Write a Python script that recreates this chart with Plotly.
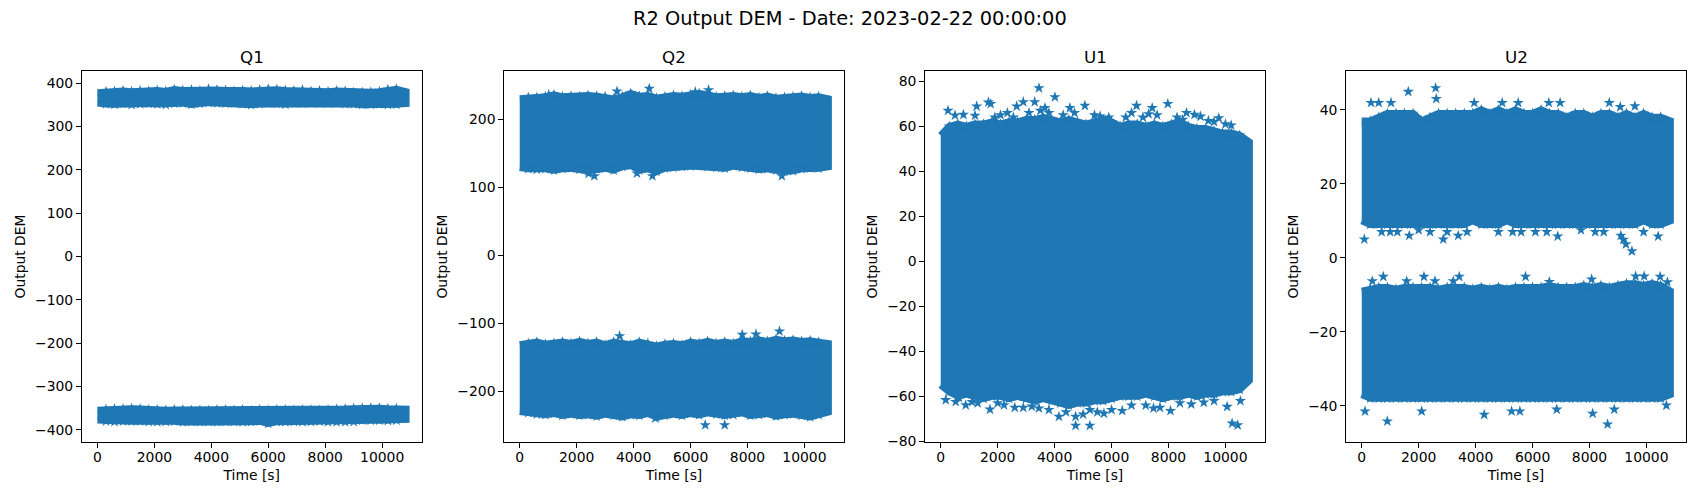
import plotly.graph_objects as go

TITLE = "R2 Output DEM - Date: 2023-02-22 00:00:00"
PANELS = ["Q1", "Q2", "U1", "U2"]
X_LABEL = "Time [s]"
Y_LABEL = "Output DEM"
X_TICKS = [0, 2000, 4000, 6000, 8000, 10000]
Y_TICKS_Q1 = [-400, -300, -200, -100, 0, 100, 200, 300, 400]
Y_TICKS_Q2 = [-200, -100, 0, 100, 200]
Y_TICKS_U1 = [-80, -60, -40, -20, 0, 20, 40, 60, 80]
Y_TICKS_U2 = [-40, -20, 0, 20, 40]

TIME_S = [0, 300, 600, 900, 1200, 1500, 1800, 2100, 2400, 2700, 3000, 3300, 3600,
          3900, 4200, 4500, 4800, 5100, 5400, 5700, 6000, 6300, 6600, 6900, 7200,
          7500, 7800, 8100, 8400, 8700, 9000, 9300, 9600, 9900, 10200, 10500, 10840]

# Q1: upper and lower clusters, edges of the dense sample cloud
Q1_A_HIGH = [378, 380, 381, 382, 380, 382, 381, 383, 381, 385, 383, 384, 382, 386, 384, 383, 381, 383, 382,
             384, 386, 385, 383, 382, 384, 381, 382, 380, 382, 381, 378, 378, 379, 380, 385, 386, 380]
Q1_A_LOW = [354, 352, 351, 353, 350, 352, 353, 352, 350, 353, 354, 351, 353, 355, 354, 353, 354, 352, 350,
            352, 354, 353, 351, 354, 353, 355, 354, 353, 354, 352, 352, 350, 351, 352, 350, 351, 353]
Q1_B_HIGH = [-355, -353, -352, -352, -351, -352, -354, -354, -355, -354, -354, -355, -355, -356, -354, -354,
             -355, -354, -356, -354, -355, -354, -354, -355, -354, -354, -355, -354, -353, -352, -351, -350,
             -350, -350, -351, -351, -352]
Q1_B_LOW = [-377, -380, -381, -380, -380, -380, -381, -382, -381, -380, -382, -381, -382, -381, -382, -381,
            -381, -382, -381, -380, -385, -381, -382, -381, -382, -381, -380, -382, -382, -382, -381, -378,
            -378, -378, -379, -378, -376]

# Q2
Q2_A_HIGH = [230, 232, 232, 233, 236, 233, 234, 233, 235, 234, 233, 230, 233, 238, 234, 235, 231, 233, 235,
             234, 236, 238, 236, 233, 234, 235, 233, 235, 232, 234, 231, 232, 233, 234, 232, 233, 230]
Q2_A_LOW = [129, 127, 126, 127, 125, 127, 128, 126, 124, 127, 128, 125, 130, 132, 125, 127, 123, 128, 129,
            130, 131, 132, 130, 129, 128, 131, 129, 128, 126, 127, 125, 123, 124, 127, 128, 128, 130]
Q2_B_HIGH = [-132, -130, -128, -131, -130, -128, -130, -127, -130, -128, -132, -128, -130, -132, -128, -130,
             -134, -131, -130, -132, -128, -130, -127, -130, -128, -130, -126, -127, -125, -127, -124, -126,
             -125, -127, -126, -128, -130]
Q2_B_LOW = [-230, -232, -234, -235, -233, -236, -234, -236, -235, -237, -234, -236, -238, -235, -236, -233,
            -238, -236, -234, -236, -233, -235, -232, -234, -236, -235, -232, -236, -235, -233, -237, -235,
            -234, -236, -238, -235, -231]
Q2_OUT_T = [3417, 4550, 6166, 6632, 2622, 4660, 4118, 9206, 3509, 9123, 7815, 8295, 6516, 7200, 1018, 2420, 4760]
Q2_OUT_V = [241, 245, 240, 243, 116.5, 116.5, 120.5, 116.5, -119, -112, -117, -116.5, -250, -250, 236, 120, -240]

# U1
U1_HIGH = [56, 60, 61, 60, 61, 61, 62, 61, 62, 62, 63, 63, 64, 63, 62, 63, 62, 61, 62,
           63, 62, 60, 61, 61, 60, 61, 60, 61, 62, 60, 59, 59, 58, 57, 57, 56, 53]
U1_LOW = [-55, -58, -60, -59, -60, -61, -60, -60, -61, -60, -61, -62, -61, -62, -63, -64, -63, -63, -62,
          -62, -61, -60, -60, -60, -59, -60, -61, -60, -60, -59, -60, -59, -59, -58, -58, -57, -53]
U1_OUT_T = [3450, 4011, 3300, 2900, 2667, 1673, 1754, 1263, 1204, 256, 502, 796, 2340, 3660, 5063, 4537,
            6877, 7428, 7976, 8632, 9123, 8912, 9766, 4737, 5239, 4737, 4151, 1730, 2222, 3450, 5239, 5732,
            6375, 7474, 8070, 175, 526, 877, 642, 10059, 10234, 10431, 9239, 10526,
            1900, 2100, 2550, 3100, 3500, 3800, 4300, 4700, 5400, 5600, 5900, 6500, 6700, 7100, 7300, 7600,
            8300, 8500, 9400, 9600, 10000, 10200,
            1100, 1300, 2000, 2600, 2900, 3200, 3800, 4400, 5000, 5500, 6000, 6700, 7200, 7700, 8400, 8800, 9600]
U1_OUT_V = [77, 73, 70.8, 70.8, 68.9, 70.7, 70, 68.9, 64.8, 67, 64.9, 65.2, 66, 68.2, 69.2, 68.2,
            69.2, 68.2, 70, 66, 64.4, 65.2, 63.7, -73, -73, -69, -69, -65.8, -63.9, -65.3, -66, -67.6,
            -66.4, -65.3, -66.4, -61.6, -62.4, -63.9, -60.6, -64.6, -72, -72.8, -62.7, -62,
            64, 65, 64, 66, 67, 66, 65, 66, 65, 64.5, 64, 64, 66, 64, 65.5, 65,
            64, 63, 62.5, 62, 61, 60.5,
            -62.5, -63, -63, -65, -65, -64.5, -66, -67, -68, -67, -66, -64, -64, -65, -63, -63.5, -62]

# U2
U2_A_HIGH = [37, 37, 38, 39, 39, 39, 39, 37, 38, 39, 39, 39, 39, 39, 40, 39, 40, 39, 40,
             39, 39, 40, 39, 39, 38, 39, 39, 38, 39, 39, 38, 39, 38, 39, 38, 38, 37]
U2_A_LOW = [10, 9, 9, 9, 9, 9, 9, 9, 9, 9, 9, 9, 9, 10, 9, 9, 9, 10, 9,
            9, 9, 9, 9, 9, 9, 9, 9, 9, 9, 9, 9, 9, 9, 10, 9, 9, 10]
U2_B_HIGH = [-9, -8.5, -8, -8, -8.5, -8, -8, -8, -8, -8.5, -8, -8, -8, -8.5, -8, -8.5, -8, -8.5, -8,
             -8, -8, -8, -7.5, -8, -8, -8, -7.5, -8, -7.5, -8, -7.5, -7, -7, -7.5, -7, -7.5, -9]
U2_B_LOW = [-37, -38, -38, -38, -38, -38, -38, -38, -38, -38, -38, -38, -38, -38, -38, -38, -38, -38, -38,
            -38, -38, -38, -38, -38, -38, -38, -38, -38, -38, -38, -38, -38, -38, -38, -38, -38, -37]
U2_OUT_T = [1635, 2596, 2618, 326, 596, 1028, 3951, 4933, 5495, 6570, 6968, 8694, 9080, 9594, 91, 1670, 2863,
            3389, 6883, 10410, 9100, 9190, 9280, 9490, 758, 2186, 3425, 5754, 372, 1579, 2572, 3214, 9620,
            9920, 10480, 6590, 8075, 10735, 898, 4302, 116, 2105, 5263, 5554, 6850, 8635, 8110, 8870, 10700,
            700, 1000, 1250, 2000, 2400, 3000, 3700, 4800, 5300, 5600, 6100, 6500, 7700, 8200, 8500, 9900]
U2_OUT_V = [44.9, 45.9, 43, 41.9, 41.9, 41.9, 41.9, 41.9, 41.9, 41.9, 41.9, 41.9, 40.8, 41, 5, 6, 5,
            6, 5.8, 5.8, 6, 4.9, 3.7, 1.8, -5.1, -5.1, -5.1, -5.1, -6.3, -6.3, -6.3, -6.3, -5,
            -5, -5.1, -6.5, -5.8, -6.6, -44.2, -42.4, -41.5, -41.5, -41.5, -41.5, -41, -45, -42.1, -41, -39.9,
            7, 7, 7, 7.5, 7, 7, 7, 7, 7, 7, 7, 7, 7.5, 7, 7, 7]

BLUE = "#1f77b4"
W, H = 1700, 500
LEFTS = [82.0, 504.3, 925.3, 1346.3]
AX_W = 339.5
TOP, BOTTOM = 71.0, 442.0
X_RANGE = [-542, 11382]
Y_RANGES = [[-428, 428], [-275, 271], [-80.3, 84.6], [-49.8, 50.5]]
Y_TICKS = [Y_TICKS_Q1, Y_TICKS_Q2, Y_TICKS_U1, Y_TICKS_U2]

BANDS = [
    [(Q1_A_HIGH, Q1_A_LOW), (Q1_B_HIGH, Q1_B_LOW)],
    [(Q2_A_HIGH, Q2_A_LOW), (Q2_B_HIGH, Q2_B_LOW)],
    [(U1_HIGH, U1_LOW)],
    [(U2_A_HIGH, U2_A_LOW), (U2_B_HIGH, U2_B_LOW)],
]
OUTLIERS = [None, (Q2_OUT_T, Q2_OUT_V), (U1_OUT_T, U1_OUT_V), (U2_OUT_T, U2_OUT_V)]

star = dict(symbol="star", size=8.5, color=BLUE, line=dict(width=0))
fig = go.Figure()
for i, name in enumerate(PANELS):
    xa, ya = f"x{i + 1}", f"y{i + 1}"
    for high, low in BANDS[i]:
        fig.add_trace(go.Scatter(x=TIME_S + TIME_S[::-1], y=high + low[::-1], xaxis=xa, yaxis=ya,
                                 mode="lines", fill="toself", fillcolor=BLUE,
                                 line=dict(color=BLUE, width=7), hoverinfo="skip"))
        inner = TIME_S[1:-1]
        fig.add_trace(go.Scatter(x=inner + inner, y=high[1:-1] + low[1:-1], xaxis=xa, yaxis=ya,
                                 mode="markers", marker=star))
    if OUTLIERS[i]:
        fig.add_trace(go.Scatter(x=OUTLIERS[i][0], y=OUTLIERS[i][1], xaxis=xa, yaxis=ya,
                                 mode="markers", marker=star))
    axis = dict(showgrid=False, zeroline=False, showline=True, mirror=True, linecolor="black", linewidth=1.1,
                ticks="outside", ticklen=5, tickwidth=1.1, tickcolor="black",
                tickfont=dict(size=13.9, color="black"))
    suffix = "" if i == 0 else str(i + 1)
    fig.update_layout({
        "xaxis" + suffix: dict(axis, domain=[LEFTS[i] / W, (LEFTS[i] + AX_W) / W], range=X_RANGE,
                               tickmode="array", tickvals=X_TICKS, tickformat="d", anchor=ya,
                               ticklabelstandoff=-3,
                               title=dict(text=X_LABEL, standoff=6, font=dict(size=13.9, color="black"))),
        "yaxis" + suffix: dict(axis, domain=[1 - BOTTOM / H, 1 - TOP / H], range=Y_RANGES[i],
                               tickmode="array", tickvals=Y_TICKS[i], anchor=xa,
                               title=dict(text=Y_LABEL, standoff=6, font=dict(size=13.9, color="black"))),
    })
    fig.add_annotation(text=name, x=(LEFTS[i] + AX_W / 2) / W, y=1 - 57 / H, xref="paper", yref="paper",
                       showarrow=False, font=dict(size=16.7, color="black"), xanchor="center", yanchor="middle")

fig.add_annotation(text=TITLE, x=0.5, y=1 - 18.5 / H, xref="paper", yref="paper", showarrow=False,
                   font=dict(size=19.4, color="black"), xanchor="center", yanchor="middle")
fig.update_layout(width=W, height=H, margin=dict(l=0, r=0, t=0, b=0, autoexpand=False), showlegend=False,
                  paper_bgcolor="white", plot_bgcolor="white",
                  font=dict(family="DejaVu Sans", color="black"))
fig.write_html("out.html", config=dict(displayModeBar=False),
               post_script="document.body.style.margin='0';document.body.style.overflow='hidden';")
